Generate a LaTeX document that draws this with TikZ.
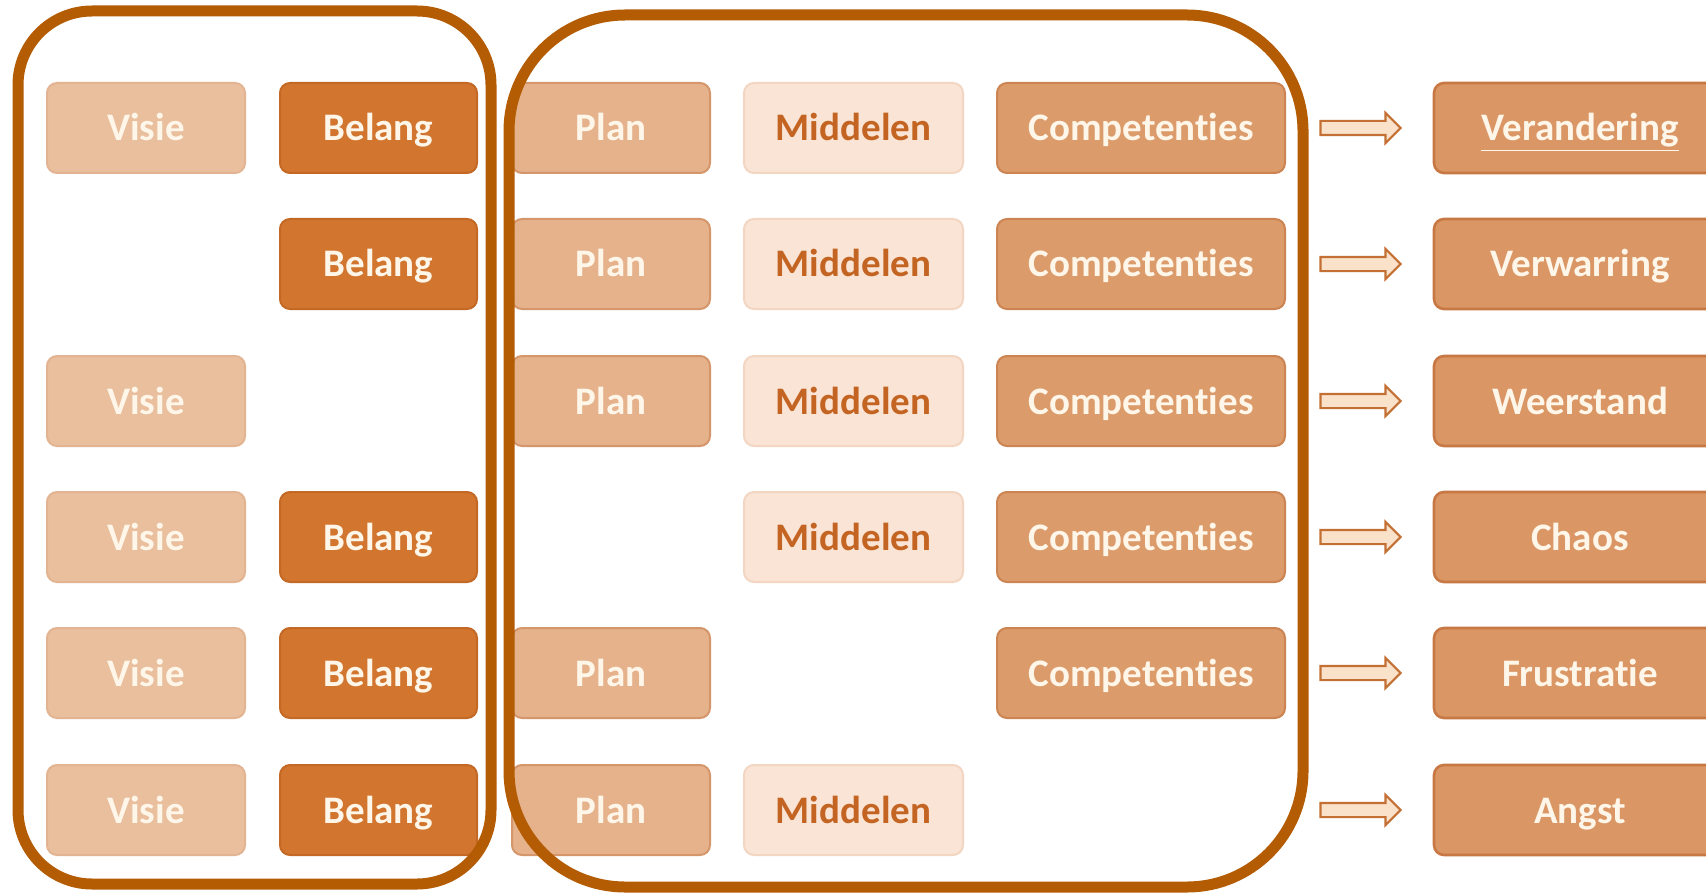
\documentclass[tikz,border=0pt]{standalone}
\usepackage{fontspec}
\setmainfont[Ligatures={NoCommon}]{Carlito}
\usetikzlibrary{shapes.arrows}
\definecolor{frameC}{RGB}{180,92,4}
\definecolor{visieF}{RGB}{233,191,158}
\definecolor{visieD}{RGB}{226,180,146}
\definecolor{belangF}{RGB}{210,117,46}
\definecolor{belangD}{RGB}{196,104,38}
\definecolor{planF}{RGB}{229,178,140}
\definecolor{planD}{RGB}{212,150,106}
\definecolor{midF}{RGB}{249,228,213}
\definecolor{midD}{RGB}{242,214,194}
\definecolor{midT}{RGB}{196,100,34}
\definecolor{compF}{RGB}{219,155,106}
\definecolor{compD}{RGB}{204,132,82}
\definecolor{resF}{RGB}{218,150,100}
\definecolor{resD}{RGB}{200,120,68}
\definecolor{txtC}{RGB}{255,246,234}
\definecolor{arrF}{RGB}{250,226,202}
\definecolor{arrD}{RGB}{196,112,52}
\tikzset{
  box/.style={rounded corners=5pt, line width=1pt, inner sep=0pt, minimum height=45pt,
    text height=15pt, text depth=2pt,
    font=\fontsize{19.5}{22}\selectfont\bfseries, text=txtC},
  visiebox/.style={box, fill=visieF, draw=visieD, minimum width=99pt},
  belangbox/.style={box, fill=belangF, draw=belangD, minimum width=98.5pt},
  planbox/.style={box, fill=planF, draw=planD, minimum width=99pt},
  midbox/.style={box, fill=midF, draw=midD, minimum width=109.5pt, text=midT},
  compbox/.style={box, fill=compF, draw=compD, minimum width=144pt},
  resbox/.style={box, fill=resF, draw=resD, line width=1.3pt, minimum width=146pt},
  bigarrow/.style={single arrow, fill=arrF, draw=arrD, line width=1.1pt, inner sep=3pt,
    single arrow head extend=4pt, single arrow tip angle=90,
    minimum height=40pt},
  frame/.style={draw=frameC, line width=5.5pt}
}
\begin{document}
\begin{tikzpicture}[x=0.5pt,y=-0.5pt]
\useasboundingbox (0,0) rectangle (1706,893);
\clip (0,0) rectangle (1706,893);
\fill[white] (0,0) rectangle (1706,893);
% rows
\def\ra{128}\def\rb{264}\def\rc{401}\def\rd{537}\def\re{673}\def\rf{810}
% column 1: Visie
\node[visiebox] (v1) at (146,\ra) {Visie};
\node[visiebox] (v3) at (146,\rc) {Visie};
\node[visiebox] (v4) at (146,\rd) {Visie};
\node[visiebox] (v5) at (146,\re) {Visie};
\node[visiebox] (v6) at (146,\rf) {Visie};
% column 2: Belang
\node[belangbox] (b1) at (378.5,\ra) {Belang};
\node[belangbox] (b2) at (378.5,\rb) {Belang};
\node[belangbox] (b4) at (378.5,\rd) {Belang};
\node[belangbox] (b5) at (378.5,\re) {Belang};
\node[belangbox] (b6) at (378.5,\rf) {Belang};
% column 3: Plan
\node[planbox] (p1) at (611,\ra) {Plan};
\node[planbox] (p2) at (611,\rb) {Plan};
\node[planbox] (p3) at (611,\rc) {Plan};
\node[planbox] (p5) at (611,\re) {Plan};
\node[planbox] (p6) at (611,\rf) {Plan};
% column 4: Middelen
\node[midbox] (m1) at (853.5,\ra) {Middelen};
\node[midbox] (m2) at (853.5,\rb) {Middelen};
\node[midbox] (m3) at (853.5,\rc) {Middelen};
\node[midbox] (m4) at (853.5,\rd) {Middelen};
\node[midbox] (m6) at (853.5,\rf) {Middelen};
% column 5: Competenties
\node[compbox] (c1) at (1141,\ra) {Competenties};
\node[compbox] (c2) at (1141,\rb) {Competenties};
\node[compbox] (c3) at (1141,\rc) {Competenties};
\node[compbox] (c4) at (1141,\rd) {Competenties};
\node[compbox] (c5) at (1141,\re) {Competenties};
% results
\node[resbox] (r1) at (1580,\ra) {\underline{Verandering}};
\node[resbox] (r2) at (1580,\rb) {Verwarring};
\node[resbox] (r3) at (1580,\rc) {Weerstand};
\node[resbox] (r4) at (1580,\rd) {Chaos};
\node[resbox] (r5) at (1580,\re) {Frustratie};
\node[resbox] (r6) at (1580,\rf) {Angst};
% arrows
\node[bigarrow] (a1) at (1357,\ra) {};
\node[bigarrow] (a2) at (1357,\rb) {};
\node[bigarrow] (a3) at (1357,\rc) {};
\node[bigarrow] (a4) at (1357,\rd) {};
\node[bigarrow] (a5) at (1357,\re) {};
\node[bigarrow] (a6) at (1357,\rf) {};
% frames
\draw[frame, rounded corners=37pt] (18,11) rectangle (491,884);
\draw[frame, rounded corners=58pt] (509,15) rectangle (1303,887);
\end{tikzpicture}
\end{document}
